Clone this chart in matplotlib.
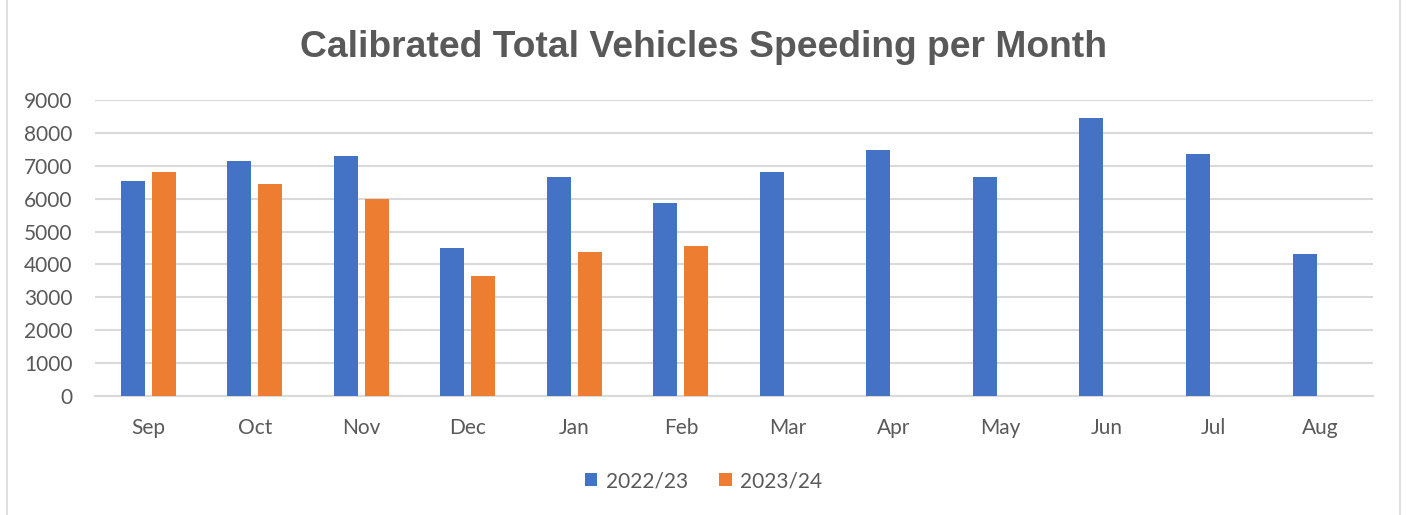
import numpy as np
import matplotlib.pyplot as plt
from matplotlib.patches import Rectangle

months = ["Sep", "Oct", "Nov", "Dec", "Jan", "Feb", "Mar", "Apr", "May", "Jun", "Jul", "Aug"]
season_2022 = [6550, 7140, 7290, 4500, 6650, 5880, 6810, 7470, 6670, 8450, 7360, 4310]
season_2023 = [6820, 6430, 5990, 3640, 4380, 4550, np.nan, np.nan, np.nan, np.nan, np.nan, np.nan]
labels = ["2022/23", "2023/24"]

text_color = "#595959"
plt.rcParams["font.family"] = ["Lato", "DejaVu Sans"]

fig = plt.figure(figsize=(14.07, 5.15), dpi=100)
fig.patches.append(Rectangle((0.005, -0.01), 0.99, 1.02, transform=fig.transFigure,
                             fill=False, edgecolor="#D9D9D9", linewidth=1.2))
ax = fig.add_axes([0.0675, 0.231, 0.9085, 0.575])

x = np.arange(len(months))
bar_width = 0.225
offset = 0.145
ax.bar(x - offset, season_2022, width=bar_width, color="#4472C4", label=labels[0], zorder=3)
ax.bar(x + offset, season_2023, width=bar_width, color="#ED7D31", label=labels[1], zorder=3)

ax.set_xlim(-0.5, len(months) - 0.5)
ax.set_ylim(0, 9000)
ax.set_yticks(range(0, 9001, 1000))
ax.set_xticks(x)
ax.set_xticklabels(months)
ax.yaxis.grid(True, color="#D9D9D9", linewidth=1.5, zorder=0)
for side in ["top", "right", "left"]:
    ax.spines[side].set_visible(False)
ax.spines["bottom"].set_color("#D9D9D9")
ax.spines["bottom"].set_linewidth(1.5)
ax.tick_params(axis="both", length=0, labelsize=15, colors=text_color)
ax.tick_params(axis="x", pad=16)
ax.tick_params(axis="y", pad=16)

fig.text(0.5, 0.908, "Calibrated Total Vehicles Speeding per Month", ha="center", va="center",
         fontsize=26.8, fontweight="bold", color=text_color, family="Liberation Sans")

fig.legend(loc="center", bbox_to_anchor=(0.5, 0.066), ncol=2, frameon=False,
           fontsize=15, labelcolor=text_color, handlelength=0.6, handleheight=0.6,
           handletextpad=0.4, columnspacing=1.5)

fig.savefig("out.png", dpi=100)
